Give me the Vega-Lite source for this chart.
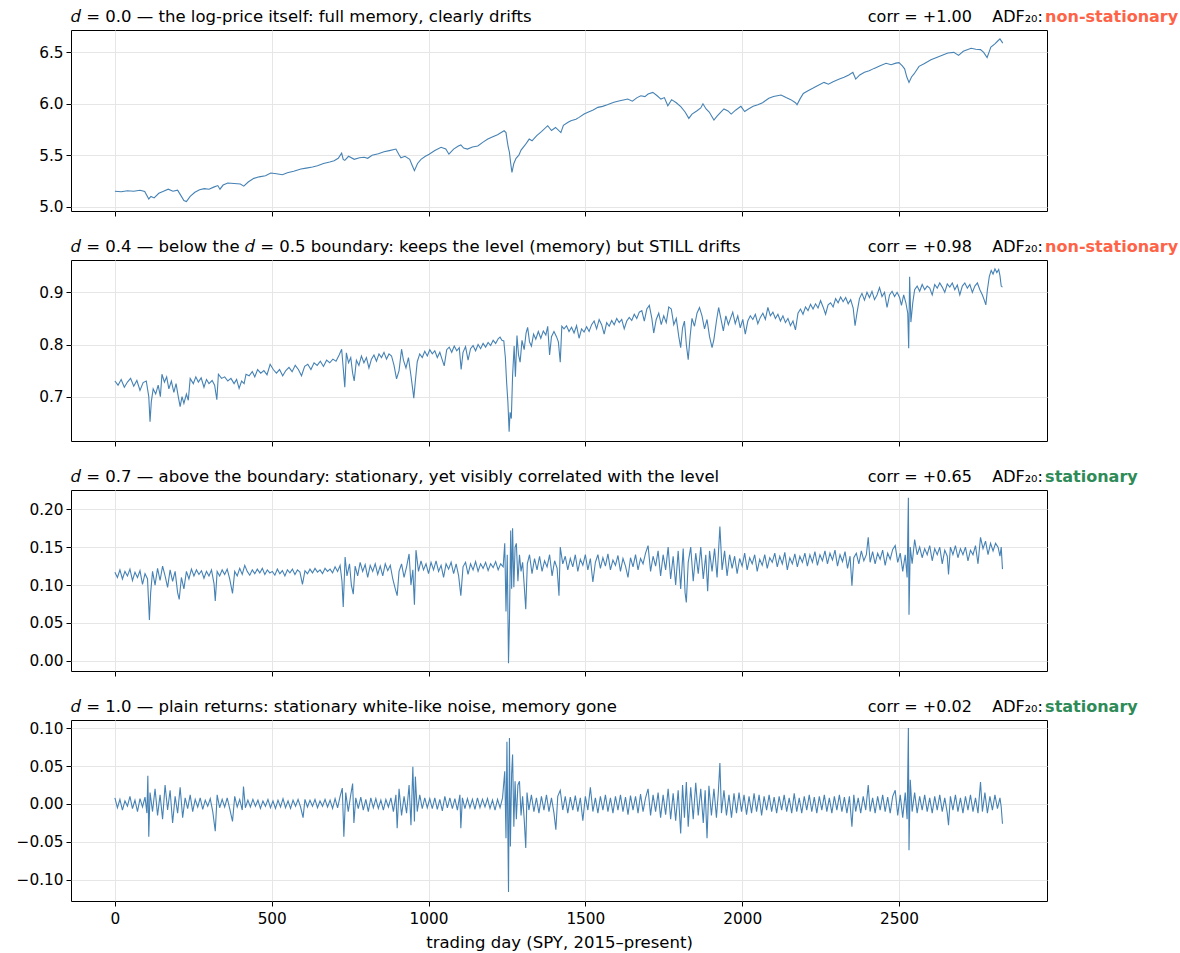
{
"$schema": "https://vega.github.io/schema/vega-lite/v6.json",
"padding": {"left": 15, "top": 8, "right": 0, "bottom": 2},
"spacing": 21,
"config": {
 "font": "DejaVu Sans",
 "view": {"stroke": "#000", "strokeWidth": 1},
 "axis": {"domain": false, "grid": true, "gridColor": "#e6e6e6", "gridWidth": 1, "tickColor": "#000", "tickSize": 5, "labelFont": "DejaVu Sans", "labelFontSize": 15.3, "labelColor": "#000", "labelPadding": 3, "titleFont": "DejaVu Sans", "titleFontSize": 16.5, "titleFontWeight": "normal", "titleColor": "#000", "titlePadding": 8},
 "text": {"font": "DejaVu Sans", "fontSize": 16.5, "baseline": "alphabetic", "color": "#000"}
},
"vconcat": [
{
 "width": 976, "height": 181,
 "layer": [
  {"data": {"values": [
{"t":0,"v":5.150},{"t":20,"v":5.145},{"t":40,"v":5.155},{"t":60,"v":5.150},{"t":80,"v":5.160},{"t":95,"v":5.148},{"t":108,"v":5.075},{"t":115,"v":5.100},{"t":125,"v":5.085},{"t":140,"v":5.130},{"t":155,"v":5.150},{"t":170,"v":5.170},{"t":185,"v":5.150},{"t":200,"v":5.160},{"t":210,"v":5.110},{"t":220,"v":5.060},{"t":228,"v":5.050},{"t":240,"v":5.100},{"t":255,"v":5.140},{"t":270,"v":5.165},{"t":285,"v":5.175},{"t":300,"v":5.170},{"t":315,"v":5.190},{"t":328,"v":5.205},{"t":335,"v":5.170},{"t":345,"v":5.210},{"t":360,"v":5.230},{"t":380,"v":5.225},{"t":400,"v":5.220},{"t":411,"v":5.200},{"t":425,"v":5.240},{"t":443,"v":5.275},{"t":460,"v":5.290},{"t":480,"v":5.300},{"t":497,"v":5.327},{"t":515,"v":5.320},{"t":534,"v":5.310},{"t":550,"v":5.330},{"t":570,"v":5.345},{"t":593,"v":5.366},{"t":610,"v":5.375},{"t":630,"v":5.385},{"t":646,"v":5.398},{"t":665,"v":5.420},{"t":685,"v":5.435},{"t":699,"v":5.447},{"t":712,"v":5.470},{"t":723,"v":5.520},{"t":728,"v":5.460},{"t":733,"v":5.450},{"t":745,"v":5.490},{"t":763,"v":5.460},{"t":780,"v":5.475},{"t":795,"v":5.480},{"t":806,"v":5.470},{"t":820,"v":5.500},{"t":840,"v":5.515},{"t":858,"v":5.534},{"t":875,"v":5.545},{"t":896,"v":5.560},{"t":905,"v":5.510},{"t":912,"v":5.475},{"t":925,"v":5.490},{"t":940,"v":5.460},{"t":948,"v":5.400},{"t":955,"v":5.350},{"t":965,"v":5.420},{"t":976,"v":5.460},{"t":990,"v":5.490},{"t":1002,"v":5.510},{"t":1020,"v":5.545},{"t":1040,"v":5.577},{"t":1055,"v":5.560},{"t":1065,"v":5.510},{"t":1080,"v":5.560},{"t":1095,"v":5.590},{"t":1103,"v":5.600},{"t":1112,"v":5.570},{"t":1124,"v":5.560},{"t":1140,"v":5.580},{"t":1157,"v":5.590},{"t":1175,"v":5.630},{"t":1189,"v":5.657},{"t":1205,"v":5.680},{"t":1220,"v":5.700},{"t":1241,"v":5.738},{"t":1247,"v":5.720},{"t":1250,"v":5.657},{"t":1254,"v":5.580},{"t":1258,"v":5.528},{"t":1262,"v":5.420},{"t":1266,"v":5.334},{"t":1272,"v":5.420},{"t":1279,"v":5.470},{"t":1288,"v":5.500},{"t":1295,"v":5.550},{"t":1308,"v":5.600},{"t":1321,"v":5.657},{"t":1330,"v":5.640},{"t":1345,"v":5.690},{"t":1360,"v":5.730},{"t":1380,"v":5.787},{"t":1392,"v":5.740},{"t":1405,"v":5.770},{"t":1422,"v":5.720},{"t":1430,"v":5.790},{"t":1445,"v":5.820},{"t":1454,"v":5.835},{"t":1470,"v":5.850},{"t":1480,"v":5.868},{"t":1496,"v":5.900},{"t":1510,"v":5.920},{"t":1525,"v":5.940},{"t":1540,"v":5.965},{"t":1555,"v":5.975},{"t":1570,"v":5.990},{"t":1591,"v":6.014},{"t":1610,"v":6.030},{"t":1625,"v":6.040},{"t":1635,"v":6.046},{"t":1650,"v":6.025},{"t":1665,"v":6.060},{"t":1677,"v":6.078},{"t":1690,"v":6.070},{"t":1700,"v":6.095},{"t":1715,"v":6.111},{"t":1728,"v":6.080},{"t":1741,"v":6.046},{"t":1752,"v":6.060},{"t":1763,"v":5.980},{"t":1775,"v":6.040},{"t":1790,"v":6.010},{"t":1805,"v":5.970},{"t":1818,"v":5.920},{"t":1830,"v":5.858},{"t":1840,"v":5.900},{"t":1855,"v":5.930},{"t":1868,"v":5.960},{"t":1875,"v":6.000},{"t":1885,"v":5.950},{"t":1895,"v":5.920},{"t":1910,"v":5.842},{"t":1920,"v":5.880},{"t":1932,"v":5.920},{"t":1942,"v":5.950},{"t":1955,"v":5.930},{"t":1965,"v":5.900},{"t":1980,"v":5.940},{"t":1996,"v":5.975},{"t":2008,"v":5.925},{"t":2020,"v":5.950},{"t":2035,"v":5.975},{"t":2050,"v":5.990},{"t":2065,"v":6.010},{"t":2085,"v":6.053},{"t":2100,"v":6.070},{"t":2124,"v":6.085},{"t":2140,"v":6.060},{"t":2155,"v":6.040},{"t":2170,"v":6.010},{"t":2175,"v":5.990},{"t":2185,"v":6.050},{"t":2195,"v":6.100},{"t":2210,"v":6.127},{"t":2225,"v":6.150},{"t":2240,"v":6.175},{"t":2261,"v":6.208},{"t":2275,"v":6.190},{"t":2290,"v":6.215},{"t":2310,"v":6.240},{"t":2325,"v":6.257},{"t":2340,"v":6.280},{"t":2353,"v":6.306},{"t":2362,"v":6.240},{"t":2375,"v":6.280},{"t":2390,"v":6.306},{"t":2405,"v":6.320},{"t":2421,"v":6.344},{"t":2440,"v":6.370},{"t":2459,"v":6.393},{"t":2475,"v":6.380},{"t":2490,"v":6.395},{"t":2500,"v":6.400},{"t":2510,"v":6.370},{"t":2518,"v":6.340},{"t":2525,"v":6.260},{"t":2532,"v":6.208},{"t":2540,"v":6.260},{"t":2548,"v":6.290},{"t":2564,"v":6.364},{"t":2580,"v":6.390},{"t":2602,"v":6.428},{"t":2620,"v":6.450},{"t":2640,"v":6.475},{"t":2656,"v":6.493},{"t":2675,"v":6.500},{"t":2690,"v":6.470},{"t":2705,"v":6.510},{"t":2730,"v":6.539},{"t":2745,"v":6.530},{"t":2760,"v":6.526},{"t":2770,"v":6.500},{"t":2781,"v":6.450},{"t":2787,"v":6.500},{"t":2793,"v":6.550},{"t":2805,"v":6.580},{"t":2815,"v":6.610},{"t":2822,"v":6.630},{"t":2831,"v":6.590}
  ]},
   "mark": {"type": "line", "color": "#4682b4", "strokeWidth": 1.1},
   "encoding": {
    "x": {"field": "t", "type": "quantitative", "scale": {"domain": [-140, 2972], "nice": false, "zero": false}, "axis": {"values": [0, 500, 1000, 1500, 2000, 2500], "labels": false, "title": null}},
    "y": {"field": "v", "type": "quantitative", "scale": {"domain": [4.958, 6.717], "nice": false, "zero": false}, "axis": {"values": [5, 5.5, 6, 6.5], "format": ".1f", "title": null}}
   }},
  {"data": {"values": [{"s": "𝑑 = 0.0 — the log-price itself: full memory, clearly drifts"}]},
   "mark": {"type": "text", "align": "left"},
   "encoding": {"x": {"datum": -140, "type": "quantitative"}, "y": {"datum": 6.795, "type": "quantitative"}, "text": {"field": "s"}}},
  {"data": {"values": [{"s": "corr = +1.00\u00a0\u00a0\u00a0\u00a0ADF₂₀:"}]},
   "mark": {"type": "text", "align": "right", "fontSize": 16},
   "encoding": {"x": {"datum": 2959, "type": "quantitative"}, "y": {"datum": 6.795, "type": "quantitative"}, "text": {"field": "s"}}},
  {"data": {"values": [{"s": "non-stationary"}]},
   "mark": {"type": "text", "align": "left", "fontSize": 16, "fontWeight": "bold", "color": "#ff6347"},
   "encoding": {"x": {"datum": 2966, "type": "quantitative"}, "y": {"datum": 6.795, "type": "quantitative"}, "text": {"field": "s"}}}
 ]
},
{
 "width": 976, "height": 181,
 "layer": [
  {"data": {"values": [
{"t":0,"v":0.730},{"t":10,"v":0.722},{"t":20,"v":0.733},{"t":30,"v":0.718},{"t":40,"v":0.728},{"t":50,"v":0.735},{"t":60,"v":0.720},{"t":70,"v":0.731},{"t":80,"v":0.712},{"t":90,"v":0.727},{"t":100,"v":0.730},{"t":108,"v":0.700},{"t":112,"v":0.652},{"t":116,"v":0.690},{"t":122,"v":0.715},{"t":130,"v":0.705},{"t":138,"v":0.722},{"t":145,"v":0.700},{"t":150,"v":0.743},{"t":158,"v":0.728},{"t":165,"v":0.738},{"t":172,"v":0.715},{"t":180,"v":0.730},{"t":188,"v":0.708},{"t":195,"v":0.725},{"t":202,"v":0.700},{"t":208,"v":0.681},{"t":214,"v":0.700},{"t":220,"v":0.687},{"t":228,"v":0.705},{"t":234,"v":0.693},{"t":240,"v":0.735},{"t":250,"v":0.725},{"t":258,"v":0.738},{"t":266,"v":0.728},{"t":275,"v":0.736},{"t":284,"v":0.718},{"t":292,"v":0.733},{"t":300,"v":0.725},{"t":310,"v":0.731},{"t":318,"v":0.722},{"t":325,"v":0.694},{"t":330,"v":0.743},{"t":340,"v":0.735},{"t":350,"v":0.738},{"t":360,"v":0.730},{"t":370,"v":0.735},{"t":380,"v":0.725},{"t":388,"v":0.733},{"t":396,"v":0.716},{"t":404,"v":0.730},{"t":412,"v":0.725},{"t":418,"v":0.743},{"t":428,"v":0.740},{"t":438,"v":0.748},{"t":446,"v":0.738},{"t":455,"v":0.752},{"t":465,"v":0.745},{"t":475,"v":0.750},{"t":485,"v":0.742},{"t":495,"v":0.762},{"t":505,"v":0.752},{"t":515,"v":0.745},{"t":525,"v":0.752},{"t":535,"v":0.740},{"t":545,"v":0.750},{"t":555,"v":0.756},{"t":565,"v":0.748},{"t":575,"v":0.760},{"t":585,"v":0.752},{"t":595,"v":0.740},{"t":605,"v":0.758},{"t":615,"v":0.762},{"t":625,"v":0.752},{"t":635,"v":0.765},{"t":645,"v":0.760},{"t":655,"v":0.768},{"t":665,"v":0.758},{"t":675,"v":0.770},{"t":685,"v":0.765},{"t":695,"v":0.772},{"t":705,"v":0.768},{"t":715,"v":0.780},{"t":723,"v":0.791},{"t":728,"v":0.755},{"t":733,"v":0.718},{"t":738,"v":0.784},{"t":745,"v":0.765},{"t":752,"v":0.775},{"t":758,"v":0.745},{"t":763,"v":0.730},{"t":770,"v":0.770},{"t":778,"v":0.760},{"t":786,"v":0.778},{"t":794,"v":0.765},{"t":802,"v":0.775},{"t":810,"v":0.755},{"t":818,"v":0.772},{"t":826,"v":0.780},{"t":834,"v":0.768},{"t":842,"v":0.782},{"t":850,"v":0.775},{"t":858,"v":0.785},{"t":866,"v":0.772},{"t":874,"v":0.782},{"t":882,"v":0.778},{"t":890,"v":0.760},{"t":898,"v":0.734},{"t":906,"v":0.750},{"t":914,"v":0.791},{"t":920,"v":0.770},{"t":928,"v":0.755},{"t":936,"v":0.775},{"t":944,"v":0.740},{"t":950,"v":0.712},{"t":953,"v":0.697},{"t":958,"v":0.730},{"t":964,"v":0.767},{"t":972,"v":0.782},{"t":980,"v":0.775},{"t":988,"v":0.787},{"t":996,"v":0.778},{"t":1004,"v":0.790},{"t":1012,"v":0.782},{"t":1020,"v":0.788},{"t":1028,"v":0.775},{"t":1036,"v":0.785},{"t":1044,"v":0.770},{"t":1050,"v":0.759},{"t":1058,"v":0.790},{"t":1066,"v":0.795},{"t":1074,"v":0.785},{"t":1082,"v":0.797},{"t":1090,"v":0.788},{"t":1098,"v":0.794},{"t":1104,"v":0.752},{"t":1110,"v":0.785},{"t":1118,"v":0.796},{"t":1126,"v":0.770},{"t":1134,"v":0.792},{"t":1142,"v":0.798},{"t":1150,"v":0.788},{"t":1158,"v":0.800},{"t":1166,"v":0.792},{"t":1174,"v":0.802},{"t":1182,"v":0.795},{"t":1190,"v":0.804},{"t":1198,"v":0.798},{"t":1206,"v":0.808},{"t":1214,"v":0.802},{"t":1222,"v":0.811},{"t":1228,"v":0.814},{"t":1234,"v":0.808},{"t":1240,"v":0.807},{"t":1245,"v":0.775},{"t":1249,"v":0.727},{"t":1253,"v":0.690},{"t":1257,"v":0.633},{"t":1260,"v":0.670},{"t":1264,"v":0.658},{"t":1268,"v":0.740},{"t":1273,"v":0.797},{"t":1277,"v":0.738},{"t":1282,"v":0.817},{"t":1287,"v":0.780},{"t":1292,"v":0.766},{"t":1298,"v":0.808},{"t":1305,"v":0.790},{"t":1311,"v":0.822},{"t":1316,"v":0.833},{"t":1322,"v":0.805},{"t":1328,"v":0.797},{"t":1335,"v":0.820},{"t":1342,"v":0.810},{"t":1350,"v":0.825},{"t":1358,"v":0.812},{"t":1366,"v":0.826},{"t":1374,"v":0.818},{"t":1380,"v":0.835},{"t":1386,"v":0.780},{"t":1392,"v":0.815},{"t":1400,"v":0.825},{"t":1408,"v":0.815},{"t":1414,"v":0.805},{"t":1420,"v":0.766},{"t":1425,"v":0.835},{"t":1432,"v":0.830},{"t":1440,"v":0.836},{"t":1448,"v":0.825},{"t":1456,"v":0.833},{"t":1464,"v":0.822},{"t":1472,"v":0.836},{"t":1480,"v":0.812},{"t":1488,"v":0.830},{"t":1496,"v":0.824},{"t":1504,"v":0.834},{"t":1512,"v":0.825},{"t":1520,"v":0.838},{"t":1528,"v":0.845},{"t":1536,"v":0.830},{"t":1544,"v":0.848},{"t":1552,"v":0.838},{"t":1560,"v":0.820},{"t":1568,"v":0.842},{"t":1576,"v":0.835},{"t":1584,"v":0.846},{"t":1592,"v":0.838},{"t":1600,"v":0.850},{"t":1608,"v":0.842},{"t":1616,"v":0.848},{"t":1624,"v":0.830},{"t":1632,"v":0.845},{"t":1640,"v":0.852},{"t":1648,"v":0.846},{"t":1656,"v":0.858},{"t":1664,"v":0.850},{"t":1672,"v":0.862},{"t":1680,"v":0.865},{"t":1688,"v":0.845},{"t":1696,"v":0.868},{"t":1704,"v":0.875},{"t":1712,"v":0.850},{"t":1718,"v":0.822},{"t":1726,"v":0.848},{"t":1734,"v":0.860},{"t":1742,"v":0.838},{"t":1750,"v":0.855},{"t":1758,"v":0.842},{"t":1766,"v":0.872},{"t":1774,"v":0.868},{"t":1782,"v":0.838},{"t":1790,"v":0.850},{"t":1798,"v":0.815},{"t":1804,"v":0.794},{"t":1810,"v":0.832},{"t":1816,"v":0.845},{"t":1822,"v":0.800},{"t":1828,"v":0.771},{"t":1834,"v":0.815},{"t":1840,"v":0.850},{"t":1848,"v":0.835},{"t":1856,"v":0.860},{"t":1864,"v":0.871},{"t":1872,"v":0.855},{"t":1880,"v":0.830},{"t":1888,"v":0.848},{"t":1896,"v":0.815},{"t":1904,"v":0.794},{"t":1910,"v":0.810},{"t":1918,"v":0.845},{"t":1925,"v":0.871},{"t":1932,"v":0.850},{"t":1940,"v":0.826},{"t":1948,"v":0.855},{"t":1956,"v":0.838},{"t":1964,"v":0.852},{"t":1970,"v":0.862},{"t":1978,"v":0.840},{"t":1986,"v":0.855},{"t":1994,"v":0.832},{"t":2002,"v":0.848},{"t":2010,"v":0.820},{"t":2018,"v":0.845},{"t":2026,"v":0.855},{"t":2034,"v":0.848},{"t":2042,"v":0.858},{"t":2050,"v":0.840},{"t":2058,"v":0.852},{"t":2066,"v":0.860},{"t":2074,"v":0.848},{"t":2082,"v":0.871},{"t":2090,"v":0.855},{"t":2098,"v":0.862},{"t":2106,"v":0.850},{"t":2114,"v":0.858},{"t":2122,"v":0.845},{"t":2130,"v":0.855},{"t":2138,"v":0.842},{"t":2146,"v":0.850},{"t":2154,"v":0.836},{"t":2162,"v":0.845},{"t":2170,"v":0.828},{"t":2178,"v":0.860},{"t":2186,"v":0.868},{"t":2194,"v":0.858},{"t":2202,"v":0.872},{"t":2210,"v":0.865},{"t":2218,"v":0.877},{"t":2226,"v":0.868},{"t":2234,"v":0.878},{"t":2242,"v":0.870},{"t":2250,"v":0.884},{"t":2258,"v":0.872},{"t":2266,"v":0.858},{"t":2274,"v":0.876},{"t":2282,"v":0.880},{"t":2290,"v":0.872},{"t":2298,"v":0.888},{"t":2306,"v":0.880},{"t":2314,"v":0.891},{"t":2322,"v":0.882},{"t":2330,"v":0.890},{"t":2338,"v":0.878},{"t":2346,"v":0.886},{"t":2354,"v":0.870},{"t":2360,"v":0.836},{"t":2366,"v":0.860},{"t":2374,"v":0.888},{"t":2382,"v":0.898},{"t":2390,"v":0.885},{"t":2398,"v":0.900},{"t":2406,"v":0.890},{"t":2414,"v":0.902},{"t":2422,"v":0.886},{"t":2430,"v":0.895},{"t":2438,"v":0.909},{"t":2446,"v":0.892},{"t":2454,"v":0.900},{"t":2462,"v":0.871},{"t":2470,"v":0.895},{"t":2478,"v":0.902},{"t":2486,"v":0.892},{"t":2494,"v":0.900},{"t":2502,"v":0.890},{"t":2508,"v":0.875},{"t":2515,"v":0.895},{"t":2522,"v":0.880},{"t":2528,"v":0.860},{"t":2531,"v":0.793},{"t":2534,"v":0.930},{"t":2538,"v":0.843},{"t":2544,"v":0.880},{"t":2550,"v":0.905},{"t":2558,"v":0.912},{"t":2566,"v":0.902},{"t":2574,"v":0.915},{"t":2582,"v":0.905},{"t":2590,"v":0.912},{"t":2598,"v":0.908},{"t":2606,"v":0.895},{"t":2614,"v":0.915},{"t":2622,"v":0.908},{"t":2630,"v":0.918},{"t":2638,"v":0.910},{"t":2646,"v":0.900},{"t":2654,"v":0.916},{"t":2662,"v":0.910},{"t":2670,"v":0.918},{"t":2678,"v":0.905},{"t":2686,"v":0.914},{"t":2694,"v":0.895},{"t":2702,"v":0.912},{"t":2710,"v":0.918},{"t":2718,"v":0.908},{"t":2726,"v":0.915},{"t":2734,"v":0.900},{"t":2742,"v":0.912},{"t":2750,"v":0.918},{"t":2758,"v":0.905},{"t":2766,"v":0.895},{"t":2772,"v":0.885},{"t":2777,"v":0.876},{"t":2782,"v":0.905},{"t":2788,"v":0.930},{"t":2794,"v":0.942},{"t":2800,"v":0.935},{"t":2806,"v":0.945},{"t":2812,"v":0.938},{"t":2818,"v":0.944},{"t":2822,"v":0.932},{"t":2826,"v":0.912},{"t":2830,"v":0.910}
  ]},
   "mark": {"type": "line", "color": "#4682b4", "strokeWidth": 1.1},
   "encoding": {
    "x": {"field": "t", "type": "quantitative", "scale": {"domain": [-140, 2972], "nice": false, "zero": false}, "axis": {"values": [0, 500, 1000, 1500, 2000, 2500], "labels": false, "title": null}},
    "y": {"field": "v", "type": "quantitative", "scale": {"domain": [0.615, 0.962], "nice": false, "zero": false}, "axis": {"values": [0.7, 0.8, 0.9], "format": ".1f", "title": null}}
   }},
  {"data": {"values": [{"s": "𝑑 = 0.4 — below the 𝑑 = 0.5 boundary: keeps the level (memory) but STILL drifts"}]},
   "mark": {"type": "text", "align": "left"},
   "encoding": {"x": {"datum": -140, "type": "quantitative"}, "y": {"datum": 0.9775, "type": "quantitative"}, "text": {"field": "s"}}},
  {"data": {"values": [{"s": "corr = +0.98\u00a0\u00a0\u00a0\u00a0ADF₂₀:"}]},
   "mark": {"type": "text", "align": "right", "fontSize": 16},
   "encoding": {"x": {"datum": 2959, "type": "quantitative"}, "y": {"datum": 0.9775, "type": "quantitative"}, "text": {"field": "s"}}},
  {"data": {"values": [{"s": "non-stationary"}]},
   "mark": {"type": "text", "align": "left", "fontSize": 16, "fontWeight": "bold", "color": "#ff6347"},
   "encoding": {"x": {"datum": 2966, "type": "quantitative"}, "y": {"datum": 0.9775, "type": "quantitative"}, "text": {"field": "s"}}}
 ]
},
{
 "width": 976, "height": 181,
 "layer": [
  {"data": {"values": [
{"t":0,"v":0.117},{"t":8,"v":0.110},{"t":16,"v":0.120},{"t":24,"v":0.108},{"t":32,"v":0.118},{"t":40,"v":0.112},{"t":48,"v":0.121},{"t":56,"v":0.106},{"t":64,"v":0.117},{"t":72,"v":0.110},{"t":80,"v":0.119},{"t":88,"v":0.101},{"t":96,"v":0.115},{"t":104,"v":0.108},{"t":110,"v":0.054},{"t":114,"v":0.090},{"t":120,"v":0.118},{"t":128,"v":0.100},{"t":136,"v":0.122},{"t":144,"v":0.106},{"t":152,"v":0.125},{"t":160,"v":0.112},{"t":168,"v":0.097},{"t":176,"v":0.120},{"t":184,"v":0.105},{"t":192,"v":0.118},{"t":200,"v":0.090},{"t":205,"v":0.081},{"t":212,"v":0.110},{"t":220,"v":0.095},{"t":228,"v":0.118},{"t":236,"v":0.108},{"t":244,"v":0.121},{"t":252,"v":0.112},{"t":260,"v":0.120},{"t":268,"v":0.114},{"t":276,"v":0.119},{"t":284,"v":0.109},{"t":292,"v":0.118},{"t":300,"v":0.112},{"t":308,"v":0.120},{"t":316,"v":0.102},{"t":320,"v":0.079},{"t":326,"v":0.118},{"t":334,"v":0.112},{"t":342,"v":0.120},{"t":350,"v":0.114},{"t":358,"v":0.121},{"t":366,"v":0.108},{"t":375,"v":0.089},{"t":382,"v":0.118},{"t":390,"v":0.112},{"t":398,"v":0.122},{"t":406,"v":0.114},{"t":414,"v":0.126},{"t":422,"v":0.118},{"t":430,"v":0.113},{"t":438,"v":0.120},{"t":446,"v":0.115},{"t":454,"v":0.121},{"t":462,"v":0.116},{"t":470,"v":0.122},{"t":478,"v":0.114},{"t":486,"v":0.120},{"t":494,"v":0.116},{"t":502,"v":0.118},{"t":510,"v":0.113},{"t":518,"v":0.121},{"t":526,"v":0.115},{"t":534,"v":0.119},{"t":542,"v":0.112},{"t":550,"v":0.120},{"t":558,"v":0.116},{"t":566,"v":0.121},{"t":574,"v":0.114},{"t":582,"v":0.120},{"t":590,"v":0.117},{"t":598,"v":0.101},{"t":606,"v":0.119},{"t":614,"v":0.115},{"t":622,"v":0.121},{"t":630,"v":0.116},{"t":638,"v":0.122},{"t":646,"v":0.117},{"t":654,"v":0.120},{"t":662,"v":0.115},{"t":670,"v":0.122},{"t":678,"v":0.118},{"t":686,"v":0.121},{"t":694,"v":0.116},{"t":702,"v":0.124},{"t":710,"v":0.118},{"t":718,"v":0.126},{"t":724,"v":0.105},{"t":728,"v":0.071},{"t":734,"v":0.137},{"t":740,"v":0.112},{"t":748,"v":0.128},{"t":754,"v":0.100},{"t":760,"v":0.088},{"t":766,"v":0.125},{"t":774,"v":0.112},{"t":782,"v":0.130},{"t":790,"v":0.118},{"t":798,"v":0.127},{"t":806,"v":0.110},{"t":814,"v":0.126},{"t":822,"v":0.118},{"t":830,"v":0.128},{"t":838,"v":0.114},{"t":846,"v":0.125},{"t":854,"v":0.112},{"t":862,"v":0.128},{"t":870,"v":0.119},{"t":878,"v":0.126},{"t":886,"v":0.108},{"t":894,"v":0.095},{"t":900,"v":0.086},{"t":906,"v":0.118},{"t":914,"v":0.128},{"t":922,"v":0.110},{"t":930,"v":0.124},{"t":938,"v":0.141},{"t":944,"v":0.100},{"t":950,"v":0.120},{"t":955,"v":0.074},{"t":960,"v":0.146},{"t":968,"v":0.118},{"t":976,"v":0.132},{"t":984,"v":0.120},{"t":992,"v":0.128},{"t":1000,"v":0.115},{"t":1008,"v":0.130},{"t":1016,"v":0.120},{"t":1024,"v":0.132},{"t":1032,"v":0.118},{"t":1040,"v":0.126},{"t":1048,"v":0.110},{"t":1056,"v":0.128},{"t":1064,"v":0.121},{"t":1072,"v":0.130},{"t":1080,"v":0.115},{"t":1088,"v":0.128},{"t":1096,"v":0.112},{"t":1103,"v":0.086},{"t":1110,"v":0.124},{"t":1118,"v":0.130},{"t":1126,"v":0.114},{"t":1134,"v":0.128},{"t":1142,"v":0.120},{"t":1150,"v":0.131},{"t":1158,"v":0.118},{"t":1166,"v":0.128},{"t":1174,"v":0.122},{"t":1182,"v":0.130},{"t":1190,"v":0.119},{"t":1198,"v":0.128},{"t":1206,"v":0.123},{"t":1214,"v":0.131},{"t":1222,"v":0.120},{"t":1230,"v":0.128},{"t":1238,"v":0.124},{"t":1243,"v":0.155},{"t":1247,"v":0.065},{"t":1251,"v":0.140},{"t":1255,"v":-0.003},{"t":1258,"v":0.052},{"t":1262,"v":0.172},{"t":1265,"v":0.095},{"t":1268,"v":0.175},{"t":1272,"v":0.097},{"t":1276,"v":0.150},{"t":1280,"v":0.155},{"t":1285,"v":0.105},{"t":1290,"v":0.140},{"t":1295,"v":0.118},{"t":1300,"v":0.130},{"t":1305,"v":0.100},{"t":1310,"v":0.068},{"t":1315,"v":0.128},{"t":1322,"v":0.140},{"t":1330,"v":0.115},{"t":1338,"v":0.135},{"t":1346,"v":0.120},{"t":1354,"v":0.138},{"t":1362,"v":0.118},{"t":1370,"v":0.132},{"t":1378,"v":0.124},{"t":1386,"v":0.140},{"t":1394,"v":0.112},{"t":1402,"v":0.132},{"t":1410,"v":0.122},{"t":1416,"v":0.086},{"t":1420,"v":0.150},{"t":1428,"v":0.128},{"t":1436,"v":0.138},{"t":1444,"v":0.120},{"t":1452,"v":0.135},{"t":1460,"v":0.124},{"t":1468,"v":0.140},{"t":1476,"v":0.118},{"t":1484,"v":0.134},{"t":1492,"v":0.126},{"t":1500,"v":0.140},{"t":1508,"v":0.120},{"t":1516,"v":0.135},{"t":1524,"v":0.104},{"t":1532,"v":0.130},{"t":1540,"v":0.140},{"t":1548,"v":0.122},{"t":1556,"v":0.136},{"t":1564,"v":0.125},{"t":1572,"v":0.141},{"t":1580,"v":0.120},{"t":1588,"v":0.133},{"t":1596,"v":0.126},{"t":1604,"v":0.139},{"t":1612,"v":0.118},{"t":1620,"v":0.135},{"t":1628,"v":0.125},{"t":1636,"v":0.110},{"t":1644,"v":0.136},{"t":1652,"v":0.124},{"t":1660,"v":0.140},{"t":1668,"v":0.120},{"t":1676,"v":0.135},{"t":1684,"v":0.128},{"t":1692,"v":0.142},{"t":1700,"v":0.152},{"t":1708,"v":0.118},{"t":1716,"v":0.138},{"t":1724,"v":0.125},{"t":1732,"v":0.145},{"t":1740,"v":0.112},{"t":1748,"v":0.140},{"t":1756,"v":0.120},{"t":1764,"v":0.150},{"t":1772,"v":0.108},{"t":1780,"v":0.138},{"t":1788,"v":0.100},{"t":1796,"v":0.145},{"t":1804,"v":0.095},{"t":1812,"v":0.148},{"t":1818,"v":0.090},{"t":1822,"v":0.077},{"t":1828,"v":0.130},{"t":1836,"v":0.150},{"t":1844,"v":0.105},{"t":1852,"v":0.142},{"t":1860,"v":0.115},{"t":1868,"v":0.150},{"t":1876,"v":0.108},{"t":1884,"v":0.140},{"t":1890,"v":0.092},{"t":1896,"v":0.145},{"t":1904,"v":0.118},{"t":1912,"v":0.148},{"t":1920,"v":0.110},{"t":1929,"v":0.177},{"t":1936,"v":0.120},{"t":1944,"v":0.145},{"t":1952,"v":0.112},{"t":1960,"v":0.140},{"t":1968,"v":0.122},{"t":1976,"v":0.138},{"t":1984,"v":0.115},{"t":1992,"v":0.135},{"t":2000,"v":0.125},{"t":2008,"v":0.142},{"t":2016,"v":0.120},{"t":2024,"v":0.136},{"t":2032,"v":0.128},{"t":2040,"v":0.140},{"t":2048,"v":0.118},{"t":2056,"v":0.134},{"t":2064,"v":0.126},{"t":2072,"v":0.140},{"t":2080,"v":0.122},{"t":2088,"v":0.136},{"t":2096,"v":0.130},{"t":2104,"v":0.142},{"t":2112,"v":0.124},{"t":2120,"v":0.138},{"t":2128,"v":0.128},{"t":2136,"v":0.143},{"t":2144,"v":0.120},{"t":2152,"v":0.136},{"t":2160,"v":0.128},{"t":2168,"v":0.141},{"t":2176,"v":0.124},{"t":2184,"v":0.138},{"t":2192,"v":0.130},{"t":2200,"v":0.142},{"t":2208,"v":0.125},{"t":2216,"v":0.140},{"t":2224,"v":0.130},{"t":2232,"v":0.144},{"t":2240,"v":0.126},{"t":2248,"v":0.140},{"t":2256,"v":0.132},{"t":2264,"v":0.145},{"t":2272,"v":0.128},{"t":2280,"v":0.142},{"t":2288,"v":0.133},{"t":2296,"v":0.146},{"t":2304,"v":0.125},{"t":2312,"v":0.140},{"t":2320,"v":0.131},{"t":2328,"v":0.144},{"t":2336,"v":0.122},{"t":2344,"v":0.138},{"t":2350,"v":0.099},{"t":2356,"v":0.136},{"t":2364,"v":0.142},{"t":2372,"v":0.128},{"t":2380,"v":0.145},{"t":2388,"v":0.132},{"t":2396,"v":0.140},{"t":2402,"v":0.163},{"t":2408,"v":0.130},{"t":2416,"v":0.144},{"t":2424,"v":0.128},{"t":2432,"v":0.142},{"t":2440,"v":0.134},{"t":2448,"v":0.146},{"t":2456,"v":0.126},{"t":2464,"v":0.142},{"t":2472,"v":0.134},{"t":2480,"v":0.147},{"t":2488,"v":0.152},{"t":2496,"v":0.130},{"t":2504,"v":0.142},{"t":2512,"v":0.118},{"t":2520,"v":0.140},{"t":2526,"v":0.110},{"t":2530,"v":0.215},{"t":2532,"v":0.061},{"t":2536,"v":0.150},{"t":2542,"v":0.128},{"t":2550,"v":0.160},{"t":2558,"v":0.140},{"t":2566,"v":0.150},{"t":2574,"v":0.136},{"t":2582,"v":0.148},{"t":2590,"v":0.140},{"t":2598,"v":0.152},{"t":2606,"v":0.132},{"t":2614,"v":0.148},{"t":2622,"v":0.140},{"t":2630,"v":0.150},{"t":2638,"v":0.128},{"t":2646,"v":0.146},{"t":2654,"v":0.138},{"t":2658,"v":0.114},{"t":2664,"v":0.150},{"t":2672,"v":0.140},{"t":2680,"v":0.152},{"t":2688,"v":0.136},{"t":2696,"v":0.148},{"t":2704,"v":0.140},{"t":2712,"v":0.150},{"t":2720,"v":0.132},{"t":2728,"v":0.146},{"t":2736,"v":0.140},{"t":2744,"v":0.152},{"t":2752,"v":0.128},{"t":2760,"v":0.163},{"t":2768,"v":0.148},{"t":2776,"v":0.158},{"t":2784,"v":0.140},{"t":2792,"v":0.155},{"t":2800,"v":0.145},{"t":2808,"v":0.155},{"t":2816,"v":0.150},{"t":2822,"v":0.138},{"t":2826,"v":0.150},{"t":2830,"v":0.121}
  ]},
   "mark": {"type": "line", "color": "#4682b4", "strokeWidth": 1.1},
   "encoding": {
    "x": {"field": "t", "type": "quantitative", "scale": {"domain": [-140, 2972], "nice": false, "zero": false}, "axis": {"values": [0, 500, 1000, 1500, 2000, 2500], "labels": false, "title": null}},
    "y": {"field": "v", "type": "quantitative", "scale": {"domain": [-0.0133, 0.2253], "nice": false, "zero": false}, "axis": {"values": [0, 0.05, 0.1, 0.15, 0.2], "format": ".2f", "title": null}}
   }},
  {"data": {"values": [{"s": "𝑑 = 0.7 — above the boundary: stationary, yet visibly correlated with the level"}]},
   "mark": {"type": "text", "align": "left"},
   "encoding": {"x": {"datum": -140, "type": "quantitative"}, "y": {"datum": 0.236, "type": "quantitative"}, "text": {"field": "s"}}},
  {"data": {"values": [{"s": "corr = +0.65\u00a0\u00a0\u00a0\u00a0ADF₂₀:"}]},
   "mark": {"type": "text", "align": "right", "fontSize": 16},
   "encoding": {"x": {"datum": 2959, "type": "quantitative"}, "y": {"datum": 0.236, "type": "quantitative"}, "text": {"field": "s"}}},
  {"data": {"values": [{"s": "stationary"}]},
   "mark": {"type": "text", "align": "left", "fontSize": 16, "fontWeight": "bold", "color": "#2e8b57"},
   "encoding": {"x": {"datum": 2966, "type": "quantitative"}, "y": {"datum": 0.236, "type": "quantitative"}, "text": {"field": "s"}}}
 ]
},
{
 "width": 976, "height": 181,
 "layer": [
  {"data": {"values": [
{"t":0,"v":0.008},{"t":8,"v":-0.005},{"t":16,"v":0.006},{"t":24,"v":-0.008},{"t":32,"v":0.004},{"t":40,"v":-0.003},{"t":48,"v":0.010},{"t":56,"v":-0.006},{"t":64,"v":0.005},{"t":72,"v":-0.010},{"t":80,"v":0.007},{"t":88,"v":-0.004},{"t":96,"v":0.009},{"t":102,"v":-0.012},{"t":105,"v":0.037},{"t":108,"v":-0.043},{"t":112,"v":0.015},{"t":120,"v":-0.010},{"t":128,"v":0.020},{"t":136,"v":-0.015},{"t":144,"v":0.012},{"t":152,"v":-0.020},{"t":160,"v":0.025},{"t":168,"v":-0.008},{"t":176,"v":0.018},{"t":184,"v":-0.025},{"t":192,"v":0.010},{"t":200,"v":-0.012},{"t":208,"v":0.022},{"t":216,"v":-0.018},{"t":224,"v":0.008},{"t":232,"v":-0.006},{"t":240,"v":0.012},{"t":248,"v":-0.010},{"t":256,"v":0.006},{"t":264,"v":-0.004},{"t":272,"v":0.008},{"t":280,"v":-0.007},{"t":288,"v":0.005},{"t":296,"v":-0.003},{"t":304,"v":0.007},{"t":312,"v":-0.010},{"t":320,"v":-0.036},{"t":326,"v":0.012},{"t":334,"v":-0.005},{"t":342,"v":0.006},{"t":350,"v":-0.004},{"t":358,"v":0.008},{"t":366,"v":-0.006},{"t":375,"v":-0.023},{"t":382,"v":0.010},{"t":390,"v":-0.004},{"t":398,"v":0.006},{"t":406,"v":-0.008},{"t":410,"v":0.023},{"t":416,"v":-0.005},{"t":424,"v":0.005},{"t":432,"v":-0.004},{"t":440,"v":0.006},{"t":448,"v":-0.003},{"t":456,"v":0.005},{"t":464,"v":-0.006},{"t":472,"v":0.004},{"t":480,"v":-0.003},{"t":488,"v":0.006},{"t":496,"v":-0.005},{"t":504,"v":0.004},{"t":512,"v":-0.006},{"t":520,"v":0.005},{"t":528,"v":-0.004},{"t":536,"v":0.007},{"t":544,"v":-0.005},{"t":552,"v":0.004},{"t":560,"v":-0.006},{"t":568,"v":0.005},{"t":576,"v":-0.003},{"t":584,"v":0.006},{"t":592,"v":-0.004},{"t":600,"v":-0.018},{"t":606,"v":0.006},{"t":614,"v":-0.004},{"t":622,"v":0.005},{"t":630,"v":-0.003},{"t":638,"v":0.006},{"t":646,"v":-0.005},{"t":654,"v":0.004},{"t":662,"v":-0.003},{"t":670,"v":0.006},{"t":678,"v":-0.004},{"t":686,"v":0.005},{"t":694,"v":-0.006},{"t":702,"v":0.007},{"t":710,"v":-0.005},{"t":718,"v":0.010},{"t":725,"v":0.021},{"t":730,"v":-0.043},{"t":736,"v":0.015},{"t":744,"v":-0.010},{"t":752,"v":0.012},{"t":758,"v":0.027},{"t":762,"v":-0.025},{"t":768,"v":0.008},{"t":776,"v":-0.006},{"t":784,"v":0.009},{"t":792,"v":-0.008},{"t":800,"v":0.006},{"t":808,"v":-0.010},{"t":816,"v":0.008},{"t":824,"v":-0.005},{"t":832,"v":0.007},{"t":840,"v":-0.006},{"t":848,"v":0.005},{"t":856,"v":-0.008},{"t":864,"v":0.006},{"t":872,"v":-0.004},{"t":880,"v":0.008},{"t":888,"v":-0.010},{"t":896,"v":0.012},{"t":900,"v":-0.032},{"t":906,"v":0.020},{"t":914,"v":-0.015},{"t":922,"v":0.010},{"t":930,"v":-0.012},{"t":938,"v":0.025},{"t":944,"v":-0.028},{"t":950,"v":0.049},{"t":955,"v":-0.023},{"t":958,"v":0.036},{"t":964,"v":-0.010},{"t":972,"v":0.012},{"t":980,"v":-0.006},{"t":988,"v":0.008},{"t":996,"v":-0.005},{"t":1004,"v":0.007},{"t":1012,"v":-0.006},{"t":1020,"v":0.008},{"t":1028,"v":-0.007},{"t":1036,"v":0.006},{"t":1044,"v":-0.009},{"t":1052,"v":0.010},{"t":1060,"v":-0.005},{"t":1068,"v":0.008},{"t":1076,"v":-0.006},{"t":1084,"v":0.007},{"t":1092,"v":-0.008},{"t":1100,"v":0.012},{"t":1103,"v":-0.032},{"t":1108,"v":0.008},{"t":1116,"v":-0.006},{"t":1124,"v":0.007},{"t":1132,"v":-0.005},{"t":1140,"v":0.006},{"t":1148,"v":-0.007},{"t":1156,"v":0.008},{"t":1164,"v":-0.005},{"t":1172,"v":0.006},{"t":1180,"v":-0.004},{"t":1188,"v":0.007},{"t":1196,"v":-0.006},{"t":1204,"v":0.005},{"t":1212,"v":-0.008},{"t":1220,"v":0.006},{"t":1228,"v":-0.005},{"t":1236,"v":0.008},{"t":1243,"v":0.043},{"t":1247,"v":-0.045},{"t":1250,"v":0.082},{"t":1253,"v":-0.040},{"t":1255,"v":-0.116},{"t":1258,"v":0.087},{"t":1261,"v":-0.056},{"t":1265,"v":0.040},{"t":1268,"v":0.065},{"t":1272,"v":-0.030},{"t":1276,"v":0.030},{"t":1280,"v":-0.020},{"t":1285,"v":0.025},{"t":1290,"v":0.030},{"t":1295,"v":-0.015},{"t":1300,"v":0.010},{"t":1305,"v":-0.020},{"t":1310,"v":-0.058},{"t":1314,"v":0.015},{"t":1320,"v":-0.008},{"t":1328,"v":0.012},{"t":1336,"v":-0.010},{"t":1344,"v":0.008},{"t":1352,"v":-0.012},{"t":1360,"v":0.010},{"t":1368,"v":-0.008},{"t":1376,"v":0.012},{"t":1384,"v":-0.010},{"t":1392,"v":0.008},{"t":1400,"v":-0.012},{"t":1406,"v":-0.034},{"t":1412,"v":0.010},{"t":1420,"v":0.018},{"t":1428,"v":-0.008},{"t":1436,"v":0.010},{"t":1444,"v":-0.012},{"t":1452,"v":0.009},{"t":1460,"v":-0.008},{"t":1468,"v":0.011},{"t":1476,"v":-0.010},{"t":1484,"v":0.008},{"t":1492,"v":-0.022},{"t":1500,"v":0.010},{"t":1508,"v":-0.008},{"t":1516,"v":0.022},{"t":1524,"v":-0.010},{"t":1532,"v":0.008},{"t":1540,"v":-0.012},{"t":1548,"v":0.010},{"t":1556,"v":-0.008},{"t":1564,"v":0.012},{"t":1572,"v":-0.010},{"t":1580,"v":0.008},{"t":1588,"v":-0.012},{"t":1596,"v":0.010},{"t":1604,"v":-0.008},{"t":1612,"v":0.012},{"t":1620,"v":-0.010},{"t":1628,"v":0.009},{"t":1636,"v":-0.014},{"t":1644,"v":0.011},{"t":1652,"v":-0.008},{"t":1660,"v":0.010},{"t":1668,"v":-0.012},{"t":1676,"v":0.013},{"t":1684,"v":-0.010},{"t":1692,"v":0.008},{"t":1700,"v":0.020},{"t":1708,"v":-0.015},{"t":1716,"v":0.012},{"t":1724,"v":-0.010},{"t":1732,"v":0.015},{"t":1740,"v":-0.018},{"t":1748,"v":0.012},{"t":1756,"v":-0.014},{"t":1764,"v":0.020},{"t":1772,"v":-0.020},{"t":1780,"v":0.014},{"t":1788,"v":-0.022},{"t":1796,"v":0.018},{"t":1804,"v":-0.039},{"t":1810,"v":0.025},{"t":1816,"v":-0.018},{"t":1822,"v":0.029},{"t":1828,"v":-0.030},{"t":1836,"v":0.022},{"t":1844,"v":-0.020},{"t":1852,"v":0.028},{"t":1860,"v":-0.015},{"t":1868,"v":0.020},{"t":1876,"v":-0.025},{"t":1882,"v":0.018},{"t":1888,"v":-0.045},{"t":1894,"v":0.024},{"t":1902,"v":-0.015},{"t":1910,"v":0.020},{"t":1918,"v":-0.018},{"t":1924,"v":0.015},{"t":1929,"v":0.054},{"t":1934,"v":-0.012},{"t":1942,"v":0.018},{"t":1950,"v":-0.015},{"t":1958,"v":0.012},{"t":1966,"v":-0.018},{"t":1974,"v":0.014},{"t":1982,"v":-0.012},{"t":1990,"v":0.015},{"t":1998,"v":-0.010},{"t":2006,"v":0.012},{"t":2014,"v":-0.014},{"t":2022,"v":0.010},{"t":2030,"v":-0.012},{"t":2038,"v":0.014},{"t":2046,"v":-0.010},{"t":2054,"v":0.012},{"t":2062,"v":-0.015},{"t":2070,"v":0.010},{"t":2078,"v":-0.008},{"t":2086,"v":0.012},{"t":2094,"v":-0.010},{"t":2102,"v":0.009},{"t":2110,"v":-0.012},{"t":2118,"v":0.010},{"t":2126,"v":-0.008},{"t":2134,"v":0.012},{"t":2142,"v":-0.010},{"t":2150,"v":0.008},{"t":2158,"v":-0.012},{"t":2166,"v":0.014},{"t":2174,"v":-0.010},{"t":2182,"v":0.008},{"t":2190,"v":-0.012},{"t":2198,"v":0.010},{"t":2206,"v":-0.008},{"t":2214,"v":0.012},{"t":2222,"v":-0.010},{"t":2230,"v":0.009},{"t":2238,"v":-0.012},{"t":2246,"v":0.010},{"t":2254,"v":-0.008},{"t":2262,"v":0.012},{"t":2270,"v":-0.010},{"t":2278,"v":0.008},{"t":2286,"v":-0.012},{"t":2294,"v":0.010},{"t":2302,"v":-0.008},{"t":2310,"v":0.012},{"t":2318,"v":-0.010},{"t":2326,"v":0.009},{"t":2334,"v":-0.012},{"t":2342,"v":0.010},{"t":2350,"v":-0.030},{"t":2356,"v":0.012},{"t":2362,"v":-0.010},{"t":2370,"v":0.008},{"t":2378,"v":-0.012},{"t":2386,"v":0.010},{"t":2394,"v":-0.008},{"t":2402,"v":0.025},{"t":2408,"v":-0.010},{"t":2416,"v":0.008},{"t":2424,"v":-0.012},{"t":2432,"v":0.010},{"t":2440,"v":-0.008},{"t":2448,"v":0.012},{"t":2456,"v":-0.010},{"t":2464,"v":0.009},{"t":2472,"v":-0.012},{"t":2480,"v":0.010},{"t":2488,"v":0.018},{"t":2496,"v":-0.015},{"t":2504,"v":0.012},{"t":2512,"v":-0.018},{"t":2520,"v":0.015},{"t":2526,"v":-0.020},{"t":2530,"v":0.100},{"t":2532,"v":-0.061},{"t":2536,"v":0.032},{"t":2542,"v":-0.010},{"t":2550,"v":0.015},{"t":2558,"v":-0.012},{"t":2566,"v":0.010},{"t":2574,"v":-0.008},{"t":2582,"v":0.012},{"t":2590,"v":-0.010},{"t":2598,"v":0.008},{"t":2606,"v":-0.012},{"t":2614,"v":0.010},{"t":2622,"v":-0.008},{"t":2630,"v":0.012},{"t":2638,"v":-0.010},{"t":2646,"v":0.008},{"t":2654,"v":-0.012},{"t":2658,"v":-0.028},{"t":2664,"v":0.010},{"t":2672,"v":-0.008},{"t":2680,"v":0.012},{"t":2688,"v":-0.010},{"t":2696,"v":0.008},{"t":2704,"v":-0.012},{"t":2712,"v":0.010},{"t":2720,"v":-0.008},{"t":2728,"v":0.012},{"t":2736,"v":-0.010},{"t":2744,"v":0.008},{"t":2752,"v":-0.012},{"t":2760,"v":0.029},{"t":2766,"v":-0.010},{"t":2774,"v":0.015},{"t":2782,"v":-0.012},{"t":2790,"v":0.010},{"t":2798,"v":-0.008},{"t":2806,"v":0.012},{"t":2814,"v":-0.006},{"t":2822,"v":0.008},{"t":2826,"v":-0.004},{"t":2830,"v":-0.026}
  ]},
   "mark": {"type": "line", "color": "#4682b4", "strokeWidth": 1.1},
   "encoding": {
    "x": {"field": "t", "type": "quantitative", "scale": {"domain": [-140, 2972], "nice": false, "zero": false}, "axis": {"values": [0, 500, 1000, 1500, 2000, 2500], "format": "d", "labelPadding": 5, "title": "trading day (SPY, 2015–present)"}},
    "y": {"field": "v", "type": "quantitative", "scale": {"domain": [-0.1278, 0.1106], "nice": false, "zero": false}, "axis": {"values": [-0.1, -0.05, 0, 0.05, 0.1], "format": ".2f", "title": null}}
   }},
  {"data": {"values": [{"s": "𝑑 = 1.0 — plain returns: stationary white-like noise, memory gone"}]},
   "mark": {"type": "text", "align": "left"},
   "encoding": {"x": {"datum": -140, "type": "quantitative"}, "y": {"datum": 0.1212, "type": "quantitative"}, "text": {"field": "s"}}},
  {"data": {"values": [{"s": "corr = +0.02\u00a0\u00a0\u00a0\u00a0ADF₂₀:"}]},
   "mark": {"type": "text", "align": "right", "fontSize": 16},
   "encoding": {"x": {"datum": 2959, "type": "quantitative"}, "y": {"datum": 0.1212, "type": "quantitative"}, "text": {"field": "s"}}},
  {"data": {"values": [{"s": "stationary"}]},
   "mark": {"type": "text", "align": "left", "fontSize": 16, "fontWeight": "bold", "color": "#2e8b57"},
   "encoding": {"x": {"datum": 2966, "type": "quantitative"}, "y": {"datum": 0.1212, "type": "quantitative"}, "text": {"field": "s"}}}
 ]
}
]
}
